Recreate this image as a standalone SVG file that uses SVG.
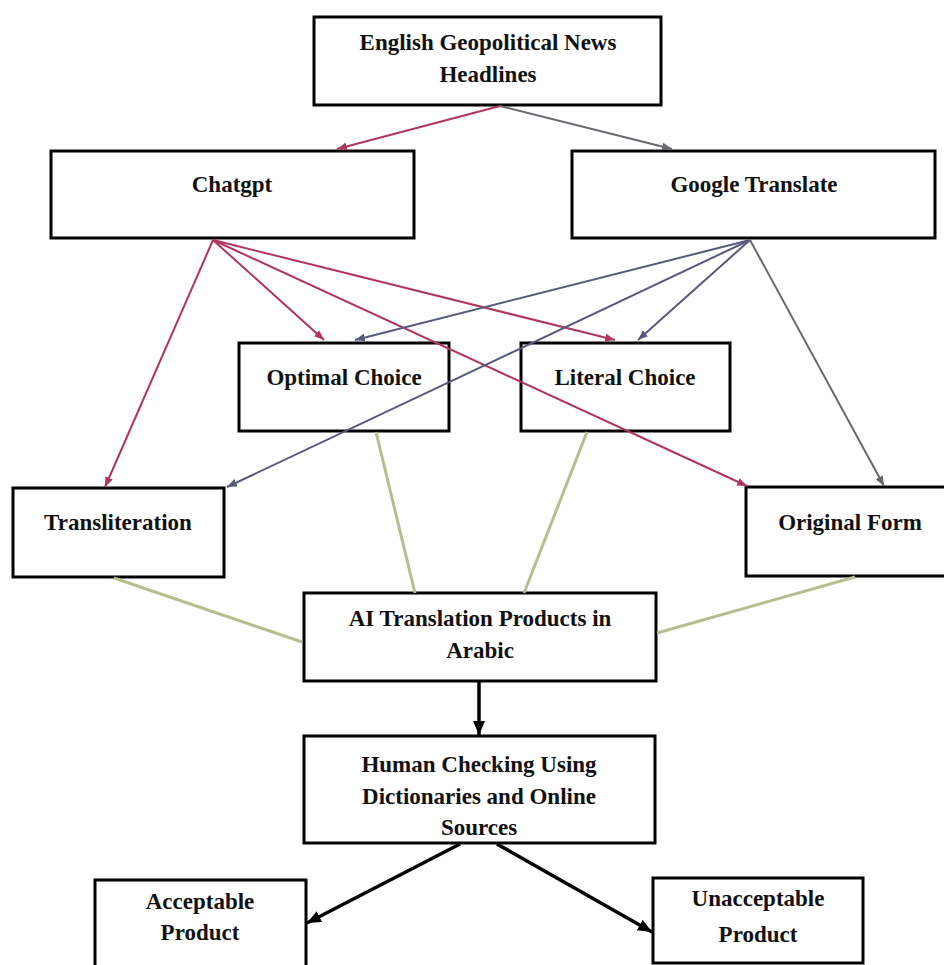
<svg xmlns="http://www.w3.org/2000/svg" width="944" height="965" viewBox="0 0 944 965">
<style>
  .box { fill: #ffffff; stroke: #000000; stroke-width: 3; }
  .lbl { font-family: "Liberation Serif", "Times New Roman", serif; font-weight: bold; font-size: 23px; fill: #111111; text-anchor: middle; }
  .red { stroke: #b0355a; stroke-width: 2; fill: none; }
  .blue { stroke: #565a7c; stroke-width: 2; fill: none; }
  .gray { stroke: #67686f; stroke-width: 2; fill: none; }
  .green { stroke: #b7bd8e; stroke-width: 3; fill: none; }
  .black { stroke: #000000; stroke-width: 3.5; fill: none; }
</style>
<defs>
  <marker id="ah-red" viewBox="0 0 10 8" refX="10" refY="4" markerWidth="10" markerHeight="8" markerUnits="userSpaceOnUse" orient="auto">
    <path d="M0,0 L10,4 L0,8 z" fill="#b0355a"/>
  </marker>
  <marker id="ah-blue" viewBox="0 0 10 8" refX="10" refY="4" markerWidth="10" markerHeight="8" markerUnits="userSpaceOnUse" orient="auto">
    <path d="M0,0 L10,4 L0,8 z" fill="#565a7c"/>
  </marker>
  <marker id="ah-gray" viewBox="0 0 10 8" refX="10" refY="4" markerWidth="10" markerHeight="8" markerUnits="userSpaceOnUse" orient="auto">
    <path d="M0,0 L10,4 L0,8 z" fill="#67686f"/>
  </marker>
  <marker id="ah-black" viewBox="0 0 14 12" refX="14" refY="6" markerWidth="14" markerHeight="12" markerUnits="userSpaceOnUse" orient="auto">
    <path d="M0,0 L14,6 L0,12 z" fill="#000000"/>
  </marker>
</defs>
<rect width="944" height="965" fill="#ffffff"/>

<g id="node-headlines">
  <rect class="box" x="314" y="17" width="347" height="88"/>
  <text class="lbl" x="488" y="50">English Geopolitical News</text>
  <text class="lbl" x="488" y="82">Headlines</text>
</g>
<g id="node-chatgpt">
  <rect class="box" x="51" y="151" width="363" height="87"/>
  <text class="lbl" x="232" y="192">Chatgpt</text>
</g>
<g id="node-google">
  <rect class="box" x="572" y="151" width="363" height="87"/>
  <text class="lbl" x="754" y="192">Google Translate</text>
</g>
<g id="node-optimal">
  <rect class="box" x="239" y="343" width="210" height="88"/>
  <text class="lbl" x="344" y="385">Optimal Choice</text>
</g>
<g id="node-literal">
  <rect class="box" x="521" y="343" width="209" height="88"/>
  <text class="lbl" x="625" y="385">Literal Choice</text>
</g>
<g id="node-transliteration">
  <rect class="box" x="13" y="488" width="211" height="89"/>
  <text class="lbl" x="118" y="530">Transliteration</text>
</g>
<g id="node-original">
  <rect class="box" x="746" y="487" width="205" height="89"/>
  <text class="lbl" x="850" y="530">Original Form</text>
</g>
<g id="node-ai">
  <rect class="box" x="304" y="593" width="352" height="88"/>
  <text class="lbl" x="480" y="626">AI Translation Products in</text>
  <text class="lbl" x="480" y="658">Arabic</text>
</g>
<g id="node-human">
  <rect class="box" x="304" y="736" width="351" height="107"/>
  <text class="lbl" x="479" y="772">Human Checking Using</text>
  <text class="lbl" x="479" y="804">Dictionaries and Online</text>
  <text class="lbl" x="479" y="835">Sources</text>
</g>
<g id="node-acceptable">
  <rect class="box" x="95" y="880" width="211" height="100"/>
  <text class="lbl" x="200" y="909">Acceptable</text>
  <text class="lbl" x="200" y="940">Product</text>
</g>
<g id="node-unacceptable">
  <rect class="box" x="653" y="878" width="210" height="85"/>
  <text class="lbl" x="758" y="906">Unacceptable</text>
  <text class="lbl" x="758" y="942">Product</text>
</g>

<g id="connectors">
  <line class="red" x1="500" y1="106" x2="337" y2="149" marker-end="url(#ah-red)"/>
  <line class="gray" x1="500" y1="106" x2="672" y2="149" marker-end="url(#ah-gray)"/>

  <line class="red" x1="213" y1="240" x2="105" y2="487" marker-end="url(#ah-red)"/>
  <line class="red" x1="213" y1="240" x2="324" y2="340" marker-end="url(#ah-red)"/>
  <line class="red" x1="213" y1="240" x2="615" y2="340" marker-end="url(#ah-red)"/>
  <line class="red" x1="213" y1="240" x2="747" y2="486" marker-end="url(#ah-red)"/>

  <line class="blue" x1="750" y1="240" x2="355" y2="340" marker-end="url(#ah-blue)"/>
  <line class="blue" x1="750" y1="240" x2="227" y2="487" marker-end="url(#ah-blue)"/>
  <line class="blue" x1="750" y1="240" x2="638" y2="340" marker-end="url(#ah-blue)"/>
  <line class="gray" x1="750" y1="240" x2="884" y2="486" marker-end="url(#ah-gray)"/>

  <line class="green" x1="376" y1="432" x2="415" y2="593"/>
  <line class="green" x1="587" y1="432" x2="524" y2="593"/>
  <line class="green" x1="114" y1="578" x2="302" y2="642"/>
  <line class="green" x1="855" y1="577" x2="657" y2="633"/>

  <line class="black" x1="479" y1="682" x2="479" y2="735" marker-end="url(#ah-black)"/>
  <line class="black" x1="460" y1="844" x2="307" y2="923" marker-end="url(#ah-black)"/>
  <line class="black" x1="497" y1="844" x2="652" y2="932" marker-end="url(#ah-black)"/>
</g>
</svg>
